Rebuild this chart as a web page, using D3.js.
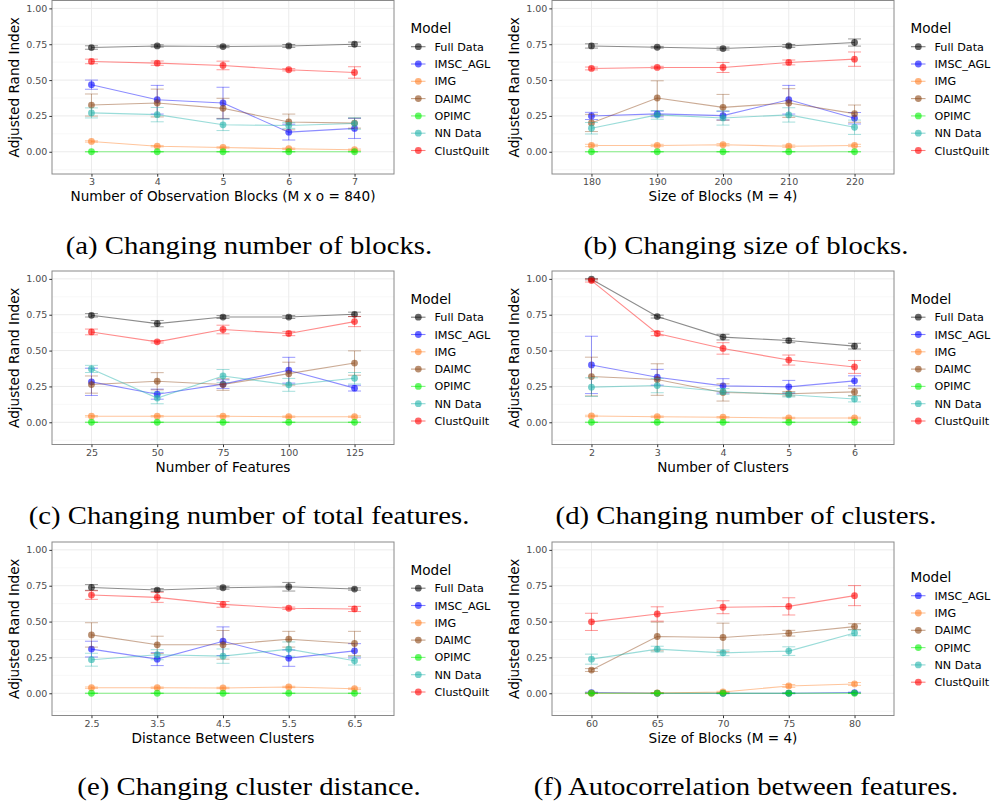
<!DOCTYPE html>
<html>
<head>
<meta charset="utf-8">
<script src="https://cdn.jsdelivr.net/npm/d3@7"></script>
<style>
  body { margin: 0; background: #fff; }
  svg { display: block; }
  .tick text { font-family: "DejaVu Sans", sans-serif; font-size: 9.5px; fill: #4d4d4d; }
  .tick line { stroke: #333; }
</style>
</head>
<body>
<div id="chart"></div>
<script>
// models in legend order
const models = ["Full Data", "IMSC_AGL", "IMG", "DAIMC", "OPIMC", "NN Data", "ClustQuilt"];
const modelColors = ["#000000", "#0000ff", "#ff7f24", "#8b4513", "#00ee00", "#20b2aa", "#ff0000"];

const yTicks = [0, 0.25, 0.5, 0.75, 1];
const yMinor = [-0.125, 0.125, 0.375, 0.625, 0.875];

// (a) number of blocks
const xA = ["3", "4", "5", "6", "7"];
const meanA = [
  [0.727, 0.738, 0.734, 0.738, 0.750],
  [0.468, 0.363, 0.340, 0.137, 0.163],
  [0.072, 0.039, 0.030, 0.021, 0.014],
  [0.326, 0.340, 0.303, 0.208, 0.200],
  [0.000, 0.000, 0.000, 0.000, 0.000],
  [0.271, 0.259, 0.188, 0.183, 0.197],
  [0.630, 0.618, 0.602, 0.572, 0.553]
];
const errA = [
  [0.012, 0.008, 0.008, 0.010, 0.015],
  [0.032, 0.100, 0.110, 0.055, 0.070],
  [0.005, 0.005, 0.005, 0.005, 0.005],
  [0.077, 0.097, 0.070, 0.055, 0.035],
  [0.002, 0.002, 0.002, 0.002, 0.002],
  [0.035, 0.050, 0.040, 0.020, 0.040],
  [0.016, 0.015, 0.030, 0.008, 0.040]
];

// (b) size of blocks
const xB = ["180", "190", "200", "210", "220"];
const meanB = [
  [0.738, 0.729, 0.720, 0.738, 0.762],
  [0.250, 0.264, 0.252, 0.363, 0.234],
  [0.044, 0.044, 0.049, 0.039, 0.044],
  [0.201, 0.375, 0.310, 0.340, 0.266],
  [0.000, 0.000, 0.000, 0.000, 0.000],
  [0.164, 0.257, 0.236, 0.257, 0.171],
  [0.581, 0.588, 0.588, 0.623, 0.646]
];
const errB = [
  [0.015, 0.006, 0.010, 0.010, 0.025],
  [0.025, 0.020, 0.030, 0.100, 0.040],
  [0.008, 0.008, 0.008, 0.008, 0.008],
  [0.060, 0.120, 0.090, 0.100, 0.060],
  [0.002, 0.002, 0.002, 0.002, 0.002],
  [0.040, 0.030, 0.050, 0.050, 0.050],
  [0.010, 0.008, 0.035, 0.017, 0.050]
];

// (c) number of features
const xC = ["25", "50", "75", "100", "125"];
const meanC = [
  [0.746, 0.688, 0.734, 0.734, 0.753],
  [0.282, 0.196, 0.266, 0.363, 0.238],
  [0.042, 0.042, 0.042, 0.039, 0.039],
  [0.263, 0.286, 0.263, 0.339, 0.413],
  [0.000, 0.000, 0.000, 0.000, 0.000],
  [0.372, 0.169, 0.323, 0.261, 0.307],
  [0.630, 0.561, 0.647, 0.619, 0.702]
];
const errC = [
  [0.012, 0.022, 0.010, 0.010, 0.015],
  [0.095, 0.035, 0.030, 0.090, 0.020],
  [0.005, 0.005, 0.005, 0.005, 0.005],
  [0.060, 0.060, 0.040, 0.080, 0.085],
  [0.002, 0.002, 0.002, 0.002, 0.002],
  [0.025, 0.040, 0.045, 0.045, 0.040],
  [0.020, 0.008, 0.030, 0.015, 0.035]
];

// (d) number of clusters
const xD = ["2", "3", "4", "5", "6"];
const meanD = [
  [0.998, 0.737, 0.594, 0.570, 0.531],
  [0.400, 0.314, 0.254, 0.247, 0.289],
  [0.044, 0.039, 0.035, 0.030, 0.030],
  [0.319, 0.298, 0.208, 0.199, 0.212],
  [0.000, 0.000, 0.000, 0.000, 0.000],
  [0.245, 0.256, 0.215, 0.192, 0.162],
  [0.988, 0.619, 0.515, 0.434, 0.386]
];
const errD = [
  [0.005, 0.010, 0.020, 0.015, 0.020],
  [0.200, 0.055, 0.050, 0.045, 0.035],
  [0.005, 0.005, 0.005, 0.005, 0.005],
  [0.135, 0.110, 0.060, 0.015, 0.025],
  [0.002, 0.002, 0.002, 0.002, 0.002],
  [0.065, 0.050, 0.020, 0.015, 0.020],
  [0.010, 0.015, 0.040, 0.035, 0.045]
];

// (e) cluster distance
const xE = ["2.5", "3.5", "4.5", "5.5", "6.5"];
const meanE = [
  [0.738, 0.720, 0.736, 0.743, 0.727],
  [0.308, 0.238, 0.363, 0.245, 0.296],
  [0.039, 0.039, 0.037, 0.044, 0.032],
  [0.407, 0.338, 0.338, 0.377, 0.347],
  [0.000, 0.000, 0.000, 0.000, 0.000],
  [0.234, 0.269, 0.259, 0.308, 0.227],
  [0.685, 0.669, 0.620, 0.593, 0.588]
];
const errE = [
  [0.020, 0.010, 0.010, 0.030, 0.008],
  [0.055, 0.045, 0.100, 0.057, 0.050],
  [0.005, 0.005, 0.005, 0.005, 0.005],
  [0.085, 0.060, 0.100, 0.055, 0.085],
  [0.002, 0.002, 0.002, 0.002, 0.002],
  [0.045, 0.035, 0.050, 0.050, 0.030],
  [0.030, 0.035, 0.020, 0.008, 0.018]
];

// (f) autocorrelation (no Full Data)
const xF = ["60", "65", "70", "75", "80"];
const meanF = [
  null,
  [0.005, 0.000, 0.000, 0.000, 0.005],
  [0.000, 0.002, 0.009, 0.051, 0.065],
  [0.162, 0.396, 0.389, 0.419, 0.465],
  [0.000, 0.000, 0.000, 0.000, 0.000],
  [0.238, 0.308, 0.282, 0.294, 0.421],
  [0.498, 0.553, 0.600, 0.606, 0.681]
];
const errF = [
  null,
  [0.003, 0.003, 0.003, 0.003, 0.003],
  [0.003, 0.003, 0.005, 0.010, 0.010],
  [0.010, 0.100, 0.100, 0.020, 0.020],
  [0.002, 0.002, 0.002, 0.002, 0.002],
  [0.035, 0.020, 0.020, 0.030, 0.020],
  [0.060, 0.050, 0.045, 0.060, 0.070]
];

const xTitles = [
  "Number of Observation Blocks (M x o = 840)", "Size of Blocks (M = 4)",
  "Number of Features", "Number of Clusters",
  "Distance Between Clusters", "Size of Blocks (M = 4)"
];
const captions = [
  "(a) Changing number of blocks.", "(b) Changing size of blocks.",
  "(c) Changing number of total features.", "(d) Changing number of clusters.",
  "(e) Changing cluster distance.", "(f) Autocorrelation between features."
];

const panels = [
  { x: xA, mean: meanA, err: errA },
  { x: xB, mean: meanB, err: errB },
  { x: xC, mean: meanC, err: errC },
  { x: xD, mean: meanD, err: errD },
  { x: xE, mean: meanE, err: errE },
  { x: xF, mean: meanF, err: errF }
];

const svg = d3.select("#chart").append("svg")
  .attr("width", 994).attr("height", 803);
svg.append("rect").attr("width", 994).attr("height", 803).attr("fill", "#fff");

const colLeft = [52, 552];
const panelW = 342;
const rowTop = [0.5, 271, 542];
const panelH = 173.5;
const capCenter = [249, 746];
const fontSans = "'DejaVu Sans', sans-serif";

panels.forEach((p, i) => {
  const col = i % 2, row = Math.floor(i / 2);
  const x0 = colLeft[col], y0 = rowTop[row];
  const g = svg.append("g");

  const x = d3.scalePoint().domain(p.x).range([x0, x0 + panelW]).padding(0.6);
  const y = d3.scaleLinear().domain([-0.155, 1.055]).range([y0 + panelH, y0]);

  // grid
  g.selectAll(".gmin").data(yMinor).join("line")
    .attr("x1", x0).attr("x2", x0 + panelW)
    .attr("y1", d => y(d)).attr("y2", d => y(d))
    .attr("stroke", "#f2f2f2").attr("stroke-width", 0.6);
  g.selectAll(".gmaj").data(yTicks).join("line")
    .attr("x1", x0).attr("x2", x0 + panelW)
    .attr("y1", d => y(d)).attr("y2", d => y(d))
    .attr("stroke", "#ebebeb").attr("stroke-width", 1);
  g.selectAll(".gx").data(p.x).join("line")
    .attr("x1", d => x(d)).attr("x2", d => x(d))
    .attr("y1", y0).attr("y2", y0 + panelH)
    .attr("stroke", "#ebebeb").attr("stroke-width", 1);

  // series
  const line = d3.line().x(d => x(d.x)).y(d => y(d.v));
  models.forEach((m, k) => {
    if (!p.mean[k]) return;
    const pts = p.x.map((xv, j) => ({ x: xv, v: p.mean[k][j], e: p.err[k][j] }));
    const c = modelColors[k];
    g.append("path").datum(pts)
      .attr("d", line).attr("fill", "none")
      .attr("stroke", c).attr("stroke-opacity", 0.45).attr("stroke-width", 1.1);
    const eb = g.append("g").attr("stroke", c).attr("stroke-opacity", 0.4).attr("stroke-width", 1);
    eb.selectAll(".v").data(pts).join("line")
      .attr("x1", d => x(d.x)).attr("x2", d => x(d.x))
      .attr("y1", d => y(d.v - d.e)).attr("y2", d => y(d.v + d.e));
    eb.selectAll(".t").data(pts).join("line")
      .attr("x1", d => x(d.x) - 6.5).attr("x2", d => x(d.x) + 6.5)
      .attr("y1", d => y(d.v + d.e)).attr("y2", d => y(d.v + d.e));
    eb.selectAll(".b").data(pts).join("line")
      .attr("x1", d => x(d.x) - 6.5).attr("x2", d => x(d.x) + 6.5)
      .attr("y1", d => y(d.v - d.e)).attr("y2", d => y(d.v - d.e));
    g.selectAll(null).data(pts).join("circle")
      .attr("cx", d => x(d.x)).attr("cy", d => y(d.v)).attr("r", 3.4)
      .attr("fill", c).attr("fill-opacity", 0.6);
  });

  // border
  g.append("rect").attr("x", x0).attr("y", y0).attr("width", panelW).attr("height", panelH)
    .attr("fill", "none").attr("stroke", "#8a8a8a").attr("stroke-width", 1);

  // axes
  const ya = g.append("g").attr("transform", `translate(${x0},0)`)
    .call(d3.axisLeft(y).tickValues(yTicks).tickFormat(d3.format(".2f")).tickSize(2.7).tickPadding(2));
  ya.select(".domain").remove();
  const xa = g.append("g").attr("transform", `translate(0,${y0 + panelH})`)
    .call(d3.axisBottom(x).tickSize(2.7).tickPadding(2));
  xa.select(".domain").remove();

  // axis titles
  g.append("text")
    .attr("transform", `translate(${x0 - 33},${y0 + panelH / 2}) rotate(-90)`)
    .attr("text-anchor", "middle")
    .style("font-family", fontSans).style("font-size", "13.6px").style("fill", "#000")
    .text("Adjusted Rand Index");
  g.append("text")
    .attr("x", x0 + panelW / 2).attr("y", y0 + 200.5)
    .attr("text-anchor", "middle")
    .style("font-family", fontSans).style("font-size", "13.6px").style("fill", "#000")
    .text(xTitles[i]);

  // legend
  const shown = models.map((m, k) => k).filter(k => p.mean[k]);
  const lx = x0 + panelW + 16.5;
  const ly = y0 + 27.5 + (7 - shown.length) * 7.5;
  const leg = g.append("g");
  leg.append("text").attr("x", lx).attr("y", ly + 5)
    .style("font-family", fontSans).style("font-size", "13.6px").style("fill", "#000")
    .text("Model");
  shown.forEach((k, n) => {
    const cy = ly + 18.7 + n * 17.3;
    leg.append("line").attr("x1", lx + 0.5).attr("x2", lx + 15)
      .attr("y1", cy).attr("y2", cy)
      .attr("stroke", modelColors[k]).attr("stroke-opacity", 0.5).attr("stroke-width", 1.1);
    leg.append("circle").attr("cx", lx + 7.8).attr("cy", cy).attr("r", 3.4)
      .attr("fill", modelColors[k]).attr("fill-opacity", 0.6);
    leg.append("text").attr("x", lx + 24).attr("y", cy + 4)
      .style("font-family", fontSans).style("font-size", "11.2px").style("fill", "#000")
      .text(models[k]);
  });

  // caption (serif, widened a little to mimic Computer Modern)
  svg.append("text")
    .attr("transform", `translate(${capCenter[col]},${y0 + 253}) scale(1.15,1)`)
    .attr("text-anchor", "middle")
    .style("font-family", "'Liberation Serif', 'DejaVu Serif', serif")
    .style("font-size", "25px").style("fill", "#000")
    .text(captions[i]);
});
</script>
</body>
</html>
